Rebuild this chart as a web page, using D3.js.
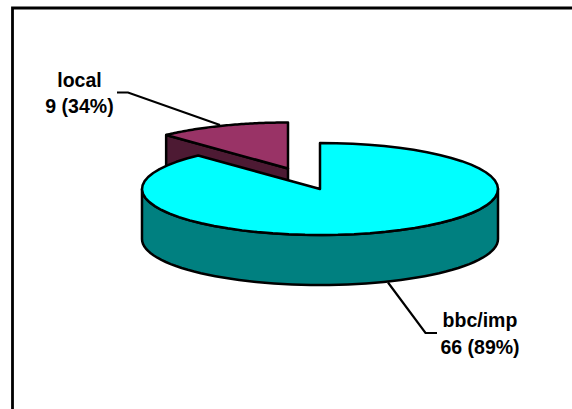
<!DOCTYPE html>
<html><head><meta charset="utf-8">
<script src="https://cdn.jsdelivr.net/npm/d3@7"></script>
<style>html,body{margin:0;padding:0;background:#fff}svg{display:block}</style></head>
<body><svg id="c" width="572" height="409"></svg>
<script>
const categories = ["bbc/imp", "local"];
const seriesValues = [66, 9];
const labelLines = [["bbc/imp", "66 (89%)"], ["local", "9 (34%)"]];
const topColors = ["#00ffff", "#993366"];
const wallColors = ["#008080", "#4d1a33"];

const svg = d3.select("#c");
const W = 572, H = 409;
svg.append("path").attr("d", `M12.5 ${H} V8 H${W}`).attr("fill","none").attr("stroke","#000").attr("stroke-width",2.8);

const slices = d3.pie().sort(null).value(d => d)(seriesValues);
const geo = [
  {cx:320, cy:189, rx:178, ry:46, depth:50},
  {cx:288, cy:168.5, rx:178, ry:46, depth:50}
];
const pt = (g, a, dy=0) => [g.cx + g.rx*Math.sin(a), g.cy - g.ry*Math.cos(a) + dy];
const arcPts = (g, a0, a1, dy=0) => {
  const angles = d3.range(0, 61).map(i => a0 + (a1-a0)*i/60);
  return angles.map(a => pt(g, a, dy));
};
const line = d3.line();
const stroke = s => s.attr("stroke","#000").attr("stroke-width",2.5).attr("stroke-linejoin","round");

// local slice first, then main pie over it
[1, 0].forEach(i => {
  const s = slices[i], g = geo[i];
  const apex = [g.cx, g.cy];
  if (i === 1) {
    const p = pt(g, s.startAngle);
    const wall = [apex, p, [p[0], p[1]+g.depth], [apex[0], apex[1]+g.depth]];
    svg.append("path").attr("d", line(wall)+"Z").attr("fill", wallColors[i]).call(stroke);
  } else {
    const a0 = Math.PI/2, a1 = 3*Math.PI/2;
    const front = arcPts(g, a0, a1);
    const back = arcPts(g, a1, a0, g.depth);
    svg.append("path").attr("d", line(front.concat(back))+"Z").attr("fill", wallColors[i]).call(stroke);
  }
  const topPts = [apex].concat(arcPts(g, s.startAngle, s.endAngle));
  svg.append("path").attr("d", line(topPts)+"Z").attr("fill", topColors[i]).call(stroke);
});

// leaders
const leaders = [[[388,282.5],[425.5,333],[437,333]], [[220,125],[128,92.5],[117,92.5]]];
leaders.forEach(l => svg.append("path").attr("d", line(l)).attr("fill","none").attr("stroke","#000").attr("stroke-width",2.2));

const labelPos = [[480,327],[79.5,86.5]];
labelLines.forEach((ls,i) => {
  const t = svg.append("text").attr("text-anchor","middle").attr("font-family","'Liberation Sans',Arial,sans-serif").attr("font-weight","bold").attr("font-size",19.5).attr("fill","#000");
  ls.forEach((s,j) => t.append("tspan").attr("x",labelPos[i][0]).attr("y",labelPos[i][1]+j*26.5).text(s));
});
</script></body></html>
